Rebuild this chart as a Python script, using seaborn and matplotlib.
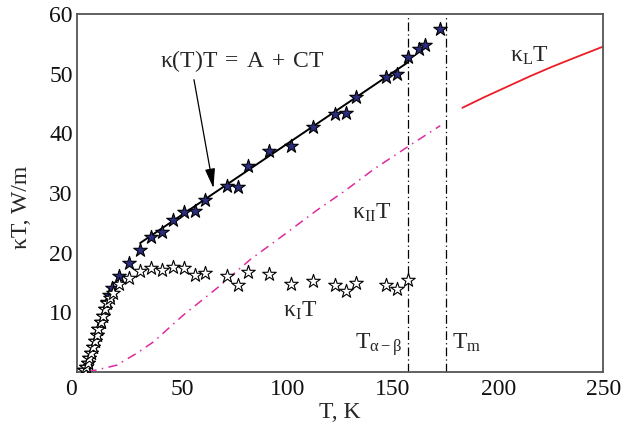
import matplotlib
matplotlib.use("Agg")
import matplotlib.pyplot as plt
import seaborn as sns
import pandas as pd

# ---- data ----
total_T = [3.5, 4.3, 5.0, 5.8, 6.6, 7.5, 8.4, 9.3, 10.2, 11.2, 12.3, 13.3, 14.4, 15.4, 16.8,
           20.1, 24.9, 29.9, 35.2, 40.4, 45.6, 50.9, 55.9, 60.8, 71.2, 76.5, 81.4, 91.4,
           101.7, 112.0, 122.6, 127.7, 132.6, 146.9, 152.2, 157.0, 162.2, 165.4, 172.5]
total_kT = [0.3, 0.8, 1.5, 2.3, 3.2, 4.2, 5.2, 6.2, 7.2, 8.3, 9.4, 10.5, 11.7, 12.9, 14.0,
            16.1, 18.3, 20.4, 22.6, 23.5, 25.5, 26.8, 27.0, 28.8, 31.2, 31.0, 34.6, 37.0,
            37.9, 41.1, 43.2, 43.5, 46.1, 49.4, 49.9, 52.8, 54.1, 54.8, 57.6]

kI_T = [3.5, 4.3, 5.0, 5.8, 6.6, 7.5, 8.4, 9.3, 10.2, 11.2, 12.3, 13.3, 14.4, 15.5, 17.3,
        20.1, 24.9, 29.9, 35.2, 40.4, 45.6, 50.9, 55.9, 60.8, 71.2, 76.5, 81.4, 91.4,
        101.7, 112.0, 122.6, 127.7, 132.6, 146.9, 152.2, 157.0]
kI_kT = [0.3, 0.8, 1.5, 2.3, 3.2, 4.2, 5.2, 6.2, 7.2, 8.3, 9.4, 10.5, 11.6, 12.4, 13.2,
         14.8, 15.7, 16.9, 17.4, 17.1, 17.6, 17.4, 16.2, 16.6, 16.1, 14.5, 16.8, 16.4,
         14.8, 15.2, 14.6, 13.6, 14.9, 14.6, 13.8, 15.4]

fit_T = [30.0, 157.0]
fit_kT = [21.6, 51.9]

kII_T = [5.0, 9.4, 18.9, 28.4, 36.3, 42.6, 50.5, 66.4, 82.2, 98.0, 113.9, 126.6, 141.0, 157.2, 172.5]
kII_kT = [0.0, 0.3, 1.1, 3.1, 5.0, 7.0, 9.5, 14.0, 18.8, 22.9, 27.1, 30.2, 34.0, 37.8, 41.3]

kL_T = [183.0, 193.5, 204.0, 214.5, 225.0, 237.0, 250.0]
kL_kT = [44.3, 46.1, 47.8, 49.5, 51.1, 52.8, 54.6]

T_ab = 157.0
T_m = 175.0

x_ticks = [0, 50, 100, 150, 200, 250]
y_ticks = [10, 20, 30, 40, 50, 60]

# ---- style ----
sns.set_theme(style="white")
plt.rcParams["font.family"] = ["Liberation Serif", "DejaVu Serif"]
plt.rcParams["mathtext.fontset"] = "custom"
plt.rcParams["mathtext.rm"] = "Liberation Serif"
plt.rcParams["mathtext.it"] = "Liberation Serif:italic"
plt.rcParams["mathtext.bf"] = "Liberation Serif:bold"

fig = plt.figure(figsize=(6.23, 4.33), dpi=100)
ax = fig.add_axes([0.1236, 0.1416, 0.845, 0.8254])

df_tot = pd.DataFrame({"T": total_T, "kT": total_kT})
df_I = pd.DataFrame({"T": kI_T, "kT": kI_kT})
df_fit = pd.DataFrame({"T": fit_T, "kT": fit_kT})
df_II = pd.DataFrame({"T": kII_T, "kT": kII_kT})
df_L = pd.DataFrame({"T": kL_T, "kT": kL_kT})

magenta = "#DE2A9E"
sns.lineplot(data=df_II, x="T", y="kT", ax=ax, color=magenta, lw=1.1,
             linestyle=(0, (6, 3.5, 1, 3.5)), estimator=None, sort=False, zorder=2)
sns.lineplot(data=df_L, x="T", y="kT", ax=ax, color="#EE1C25", lw=1.3,
             estimator=None, sort=False, zorder=2)
sns.lineplot(data=df_fit, x="T", y="kT", ax=ax, color="black", lw=1.4,
             estimator=None, sort=False, zorder=3)

for tv in (T_ab, T_m):
    ax.axvline(tv, color="black", lw=0.9, linestyle=(0, (7, 2.5, 1, 2.5)), zorder=1)

sns.scatterplot(data=df_tot, x="T", y="kT", ax=ax, marker="*", s=105,
                color="#2B2D7E", edgecolor="black", linewidth=0.8, zorder=4)
sns.scatterplot(data=df_I, x="T", y="kT", ax=ax, marker="*", s=105,
                color="white", edgecolor="black", linewidth=0.8, zorder=5)

ax.set_xlim(0, 250)
ax.set_ylim(0, 60)
ax.set_xticks(x_ticks)
ax.set_yticks(y_ticks)
ax.set_xticklabels([str(v) for v in x_ticks])
ax.set_yticklabels([str(v) for v in y_ticks])
ax.get_xticklabels()[0].set_horizontalalignment("right")

ax.tick_params(axis="both", direction="in", length=5, width=1, color="#555555",
               labelsize=17, labelcolor="#111111")
ax.tick_params(axis="x", pad=5)
ax.tick_params(axis="y", pad=3)
for sp in ax.spines.values():
    sp.set_visible(True)
    sp.set_color("#555555")
    sp.set_linewidth(1.3)

ax.set_xlabel("T, K", fontsize=17, labelpad=2)
ax.set_ylabel("κT, W/m", fontsize=17)
ax.yaxis.set_label_coords(-0.085, 0.46)

fs = 17
ax.annotate(r"$\mathrm{κ(T)T\;=\;A\;+\;CT}$", xy=(64.8, 30.8), xytext=(39.4, 51.2),
            fontsize=fs, ha="left", va="baseline",
            arrowprops=dict(arrowstyle="-|>,head_length=0.7,head_width=0.18",
                            color="black", lw=0.9, shrinkA=2, shrinkB=0,
                            relpos=(0.2, 0.0)))
ax.text(130.6, 25.6, r"$\mathrm{κ_{II}T}$", fontsize=fs, ha="left", va="baseline")
ax.text(98.0, 9.2, r"$\mathrm{κ_{I}T}$", fontsize=fs, ha="left", va="baseline")
ax.text(205.8, 52.0, r"$\mathrm{κ_{L}T}$", fontsize=fs, ha="left", va="baseline")
ax.text(132.1, 3.9, r"$\mathrm{T_{\alpha-\beta}}$", fontsize=fs, ha="left", va="baseline")
ax.text(178.1, 3.9, r"$\mathrm{T_{m}}$", fontsize=fs, ha="left", va="baseline")

fig.savefig("out.png", dpi=100)
